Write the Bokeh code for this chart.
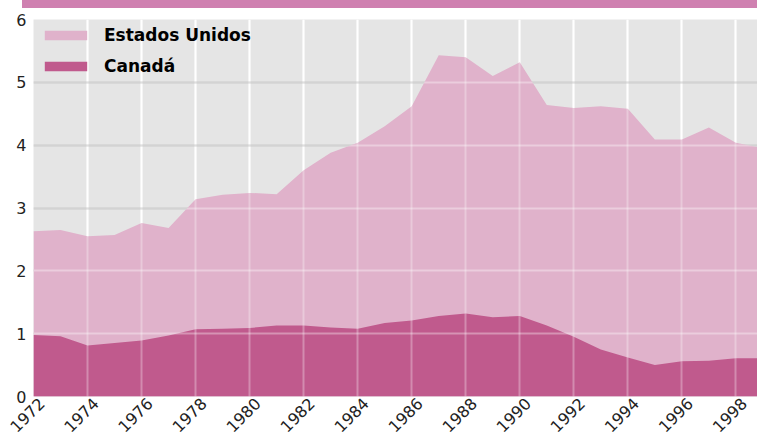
import numpy as np
from bokeh.plotting import figure
from bokeh.layouts import column
from bokeh.models import (FixedTicker, Grid, Legend, LegendItem, Range1d, Div,
                          LinearAxis)
from bokeh.embed import file_html
from bokeh.resources import INLINE

years = list(range(1972, 2000))
estados_unidos = [2.63, 2.65, 2.55, 2.57, 2.76, 2.68, 3.14, 3.21, 3.24, 3.22,
                  3.60, 3.88, 4.04, 4.30, 4.62, 5.43, 5.40, 5.10, 5.32, 4.64,
                  4.59, 4.62, 4.58, 4.09, 4.09, 4.28, 4.04, 3.95]
canada = [0.98, 0.96, 0.81, 0.85, 0.89, 0.97, 1.07, 1.08, 1.09, 1.13,
          1.13, 1.10, 1.08, 1.17, 1.21, 1.28, 1.32, 1.26, 1.28, 1.13,
          0.95, 0.75, 0.62, 0.50, 0.56, 0.57, 0.61, 0.61]
x_ticks = list(range(1972, 1999, 2))
y_ticks = [0, 1, 2, 3, 4, 5, 6]
labels = ["Estados Unidos", "Canadá"]

US_COLOR = "#e0b2cb"
CA_COLOR = "#c05a8d"
FONT = "DejaVu Sans"
X_START, X_END = 1972, 1998.8
LABEL_SHIFT = 0.3  # nudges rotated year labels right so their ends sit past the tick

bar = Div(text="", width=735, height=8, margin=(0, 0, 0, 22),
          styles={"background-color": "#cf80b0"})

p = figure(width=757, height=432, output_backend="svg", toolbar_location=None,
           x_range=Range1d(X_START, X_END), y_range=Range1d(0, 6), margin=0)
p.extra_x_ranges = {"labels": Range1d(X_START - LABEL_SHIFT, X_END - LABEL_SHIFT)}
p.min_border_left = 33
p.min_border_right = 0
p.min_border_top = 11
p.min_border_bottom = 44
p.outline_line_color = None
p.background_fill_color = "#e5e5e5"
p.border_fill_color = "white"

r_us = p.varea(x=years, y1=0, y2=estados_unidos, fill_color=US_COLOR)
r_ca = p.varea(x=years, y1=0, y2=canada, fill_color=CA_COLOR)

p.xaxis.visible = False
xa = LinearAxis(x_range_name="labels", ticker=FixedTicker(ticks=x_ticks))
p.add_layout(xa, "below")

for ax in (xa, p.yaxis[0]):
    ax.axis_line_color = None
    ax.major_tick_line_color = None
    ax.minor_tick_line_color = None
    ax.major_tick_out = 0
    ax.major_tick_in = 0
    ax.major_label_text_font = FONT
    ax.major_label_text_font_size = "16px"
    ax.major_label_text_color = "#222222"
p.yaxis.ticker = FixedTicker(ticks=y_ticks)
xa.major_label_orientation = np.pi / 4
xa.major_label_text_align = "right"
xa.major_label_text_baseline = "middle"
xa.major_label_standoff = 4
p.yaxis.major_label_standoff = 7

p.xgrid.ticker = FixedTicker(ticks=x_ticks)
p.xgrid.grid_line_color = "white"
p.xgrid.grid_line_width = 2
p.ygrid.grid_line_color = "#bcbcbc"
p.ygrid.grid_line_width = 2

gx = Grid(dimension=0, ticker=FixedTicker(ticks=x_ticks), grid_line_color="white",
          grid_line_alpha=0.3, grid_line_width=2, level="overlay")
gy = Grid(dimension=1, ticker=FixedTicker(ticks=y_ticks), grid_line_color="white",
          grid_line_alpha=0.35, grid_line_width=2, level="overlay")
p.add_layout(gx)
p.add_layout(gy)

legend = Legend(items=[LegendItem(label=labels[0], renderers=[r_us]),
                       LegendItem(label=labels[1], renderers=[r_ca])],
                location="top_left")
legend.label_text_font = FONT
legend.label_text_font_style = "bold"
legend.label_text_font_size = "17px"
legend.label_text_color = "black"
legend.glyph_width = 53
legend.glyph_height = 12
legend.label_height = 18
legend.label_standoff = 12
legend.spacing = 11
legend.margin = 6
legend.padding = 8
legend.background_fill_alpha = 0
legend.border_line_color = None
p.add_layout(legend)

layout = column(bar, p, spacing=0)
open("out.html", "w").write(file_html(layout, INLINE))
